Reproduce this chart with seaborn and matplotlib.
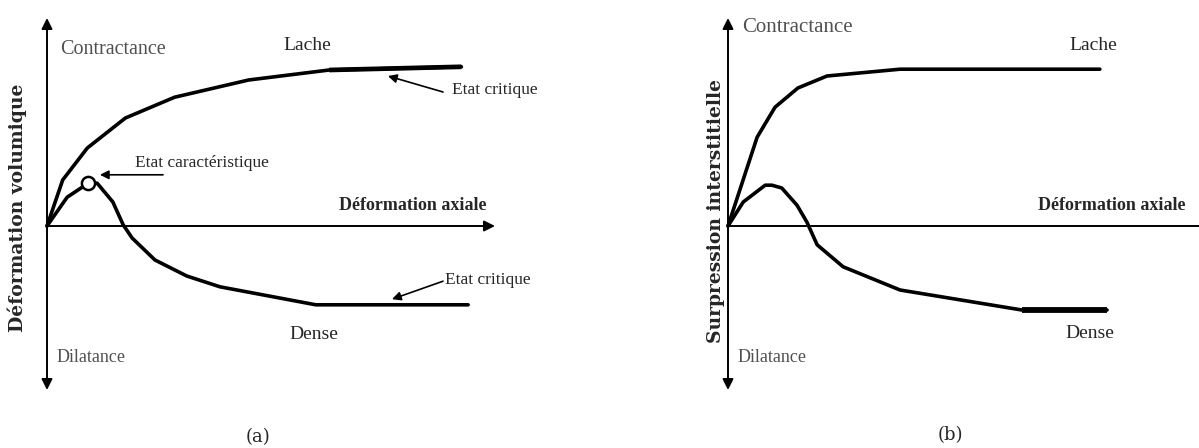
import numpy as np
import pandas as pd
import seaborn as sns
import matplotlib.pyplot as plt

# ---- (a) volumetric strain vs axial strain (arbitrary units) ----
a_loose_x = [0, 0.35, 0.9, 1.75, 2.85, 4.5, 6.3, 9.25]
a_loose_y = [0, 1.15, 1.95, 2.7, 3.22, 3.65, 3.9, 3.98]
a_dense_x = [0, 0.45, 0.92, 1.12, 1.47, 1.70, 1.90, 2.41, 3.12, 3.86, 6.0, 9.4]
a_dense_y = [0, 0.72, 1.07, 1.07, 0.6, 0.03, -0.3, -0.85, -1.25, -1.52, -1.97, -1.97]
a_char_point = (0.92, 1.07)

# ---- (b) excess pore pressure vs axial strain (arbitrary units) ----
b_loose_x = [0, 0.65, 1.05, 1.56, 2.21, 3.84, 8.3]
b_loose_y = [0, 2.22, 2.97, 3.45, 3.75, 3.92, 3.92]
b_dense_x = [0, 0.34, 0.83, 0.98, 1.2, 1.54, 1.76, 1.99, 2.57, 3.84, 6.56, 8.46]
b_dense_y = [0, 0.6, 1.02, 1.02, 0.95, 0.52, 0.1, -0.47, -1.02, -1.6, -2.1, -2.1]

sns.set_theme(style="white")
plt.rcParams["font.family"] = ["Liberation Serif", "DejaVu Serif"]

W, H = 1199, 448
fig = plt.figure(figsize=(W / 100, H / 100), dpi=100)

# pixel scale of the data units in each panel
PX_X, PX_Y = 44.8, 40.0
ORIGIN_Y = 226


def make_axes(left_px, right_px, origin_x):
    ax = fig.add_axes([left_px / W, 0, (right_px - left_px) / W, 1])
    ax.set_xlim((left_px - origin_x) / PX_X, (right_px - origin_x) / PX_X)
    ax.set_ylim((ORIGIN_Y - H) / PX_Y, ORIGIN_Y / PX_Y)
    ax.set_axis_off()
    return ax


ax_a = make_axes(0, 600, 47)
ax_b = make_axes(600, W, 728)

AX_LW = 1.4
CURVE_LW = 2.6
GREY = "#505050"


def arrow(ax, tail, tip, style="-|>", lw=AX_LW, ms=16):
    ax.annotate("", xy=tip, xytext=tail,
                arrowprops=dict(arrowstyle=style, color="black", lw=lw,
                                mutation_scale=ms, shrinkA=0, shrinkB=0))


def curve(ax, xs, ys, lw=CURVE_LW, plateau_lw=None):
    df = pd.DataFrame({"x": xs, "y": ys})
    sns.lineplot(data=df, x="x", y="y", sort=False, color="black", lw=lw,
                 ax=ax, legend=False)
    if plateau_lw:
        sns.lineplot(data=df.iloc[-2:], x="x", y="y", sort=False, color="black",
                     lw=plateau_lw, ax=ax, legend=False, solid_capstyle="butt")
    ax.set_axis_off()


# ---------------- panel (a) ----------------
arrow(ax_a, (0, -4.1), (0, 5.2), style="<|-|>")
arrow(ax_a, (0, 0), (10.0, 0))
curve(ax_a, a_loose_x, a_loose_y, plateau_lw=3.4)
curve(ax_a, a_dense_x, a_dense_y)
sns.scatterplot(x=[a_char_point[0]], y=[a_char_point[1]], ax=ax_a, marker="o",
                s=90, facecolor="white", edgecolor="black", linewidth=1.8,
                zorder=5, legend=False)
ax_a.set_axis_off()

ax_a.text(0.29, 4.4, "Contractance", color=GREY, fontsize=14.5, ha="left", va="center")
ax_a.text(0.22, -3.28, "Dilatance", color=GREY, fontsize=13, ha="left", va="center")
ax_a.text(5.8, 4.5, "Lache", fontsize=14, ha="center", va="center")
ax_a.text(5.95, -2.72, "Dense", fontsize=14, ha="center", va="center")
ax_a.text(8.17, 0.52, "Déformation axiale", fontsize=13, fontweight="bold",
          ha="center", va="center")
ax_a.text(9.04, 3.4, "Etat critique", fontsize=12.5, ha="left", va="center")
arrow(ax_a, (8.84, 3.35), (7.61, 3.75), lw=1.2, ms=13)
ax_a.text(8.88, -1.35, "Etat critique", fontsize=12.5, ha="left", va="center")
arrow(ax_a, (8.84, -1.38), (7.7, -1.83), lw=1.2, ms=13)
ax_a.text(1.96, 1.58, "Etat caractéristique", fontsize=12.5, ha="left", va="center")
arrow(ax_a, (2.59, 1.28), (1.18, 1.28), lw=1.2, ms=13)
ax_a.text(-0.67, 0.45, "Déformation volumique", family="DejaVu Serif",
          fontweight="bold", fontsize=13.5, rotation=90, ha="center", va="center")
ax_a.text(4.71, -5.27, "(a)", family="DejaVu Serif", fontsize=13,
          ha="center", va="center")

# ---------------- panel (b) ----------------
arrow(ax_b, (0, -4.1), (0, 5.2), style="<|-|>")
ax_b.plot([0, 10.6], [0, 0], color="black", lw=AX_LW)
curve(ax_b, b_loose_x, b_loose_y)
curve(ax_b, b_dense_x, b_dense_y, plateau_lw=4.2)

ax_b.text(0.31, 4.97, "Contractance", color=GREY, fontsize=15, ha="left", va="center")
ax_b.text(0.22, -3.28, "Dilatance", color=GREY, fontsize=13, ha="left", va="center")
ax_b.text(8.15, 4.52, "Lache", fontsize=14, ha="center", va="center")
ax_b.text(8.08, -2.68, "Dense", fontsize=14, ha="center", va="center")
ax_b.text(8.57, 0.52, "Déformation axiale", fontsize=13, fontweight="bold",
          ha="center", va="center")
ax_b.text(-0.27, 0.38, "Surpression interstitielle", family="DejaVu Serif",
          fontweight="bold", fontsize=13.5, rotation=90, ha="center", va="center")
ax_b.text(4.96, -5.22, "(b)", family="DejaVu Serif", fontsize=13,
          ha="center", va="center")

fig.savefig("out.png", dpi=100, facecolor="white")
